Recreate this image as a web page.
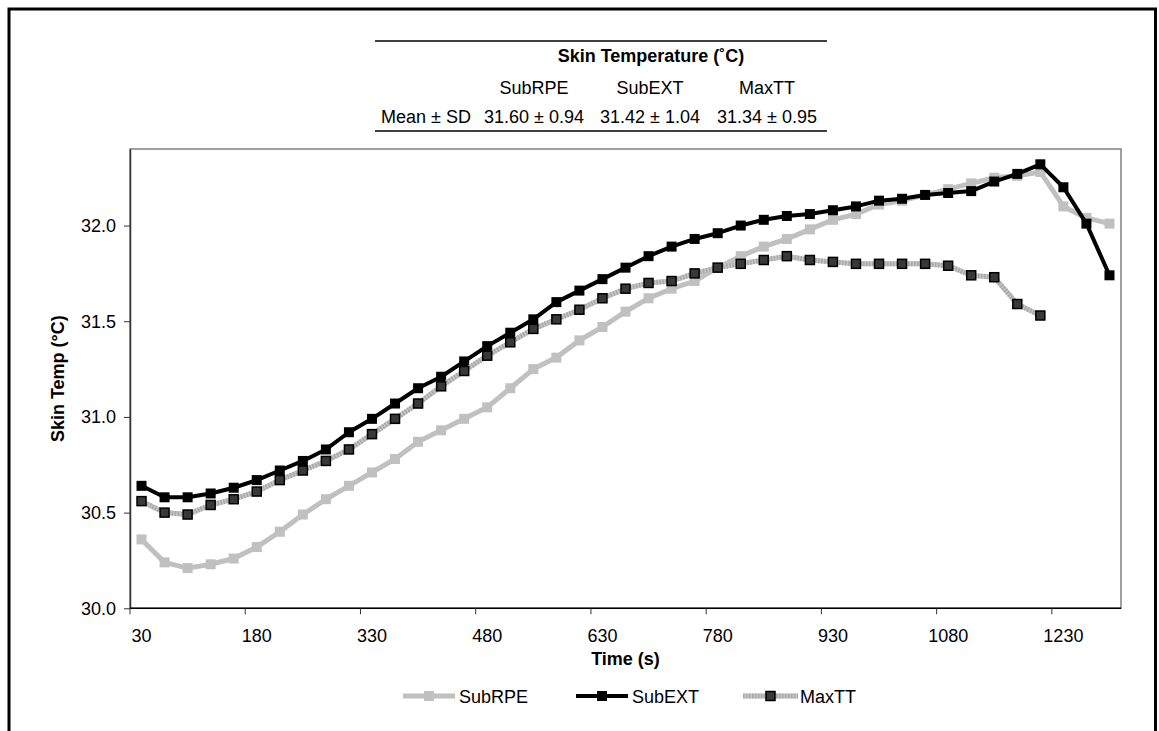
<!DOCTYPE html>
<html>
<head>
<meta charset="utf-8">
<title>Skin Temperature</title>
<script src="https://cdn.jsdelivr.net/npm/d3@7"></script>
<style>
  body { margin: 0; background: #fff; }
  svg text { font-family: "Liberation Sans", Arial, sans-serif; fill: #000; }
</style>
</head>
<body>
<div id="chart"></div>
<script>
// time points (s), one per category on the x axis
const times = [30, 60, 90, 120, 150, 180, 210, 240, 270, 300, 330, 360, 390, 420, 450,
  480, 510, 540, 570, 600, 630, 660, 690, 720, 750, 780, 810, 840, 870, 900,
  930, 960, 990, 1020, 1050, 1080, 1110, 1140, 1170, 1200, 1230, 1260, 1290];

const subRPE = [30.36, 30.24, 30.21, 30.23, 30.26, 30.32, 30.40, 30.49, 30.57, 30.64,
  30.71, 30.78, 30.87, 30.93, 30.99, 31.05, 31.15, 31.25, 31.31, 31.40,
  31.47, 31.55, 31.62, 31.67, 31.71, 31.78, 31.84, 31.89, 31.93, 31.98,
  32.03, 32.06, 32.11, 32.13, 32.16, 32.19, 32.22, 32.25, 32.26, 32.28,
  32.10, 32.04, 32.01];

const subEXT = [30.64, 30.58, 30.58, 30.60, 30.63, 30.67, 30.72, 30.77, 30.83, 30.92,
  30.99, 31.07, 31.15, 31.21, 31.29, 31.37, 31.44, 31.51, 31.60, 31.66,
  31.72, 31.78, 31.84, 31.89, 31.93, 31.96, 32.00, 32.03, 32.05, 32.06,
  32.08, 32.10, 32.13, 32.14, 32.16, 32.17, 32.18, 32.23, 32.27, 32.32,
  32.20, 32.01, 31.74];

// MaxTT stops at 1200 s
const maxTT = [30.56, 30.50, 30.49, 30.54, 30.57, 30.61, 30.67, 30.72, 30.77, 30.83,
  30.91, 30.99, 31.07, 31.16, 31.24, 31.32, 31.39, 31.46, 31.51, 31.56,
  31.62, 31.67, 31.70, 31.71, 31.75, 31.78, 31.80, 31.82, 31.84, 31.82,
  31.81, 31.80, 31.80, 31.80, 31.80, 31.79, 31.74, 31.73, 31.59, 31.53];

const seriesNames = ["SubRPE", "SubEXT", "MaxTT"];
const xTickLabels = [30, 180, 330, 480, 630, 780, 930, 1080, 1230];
const yTicks = [30.0, 30.5, 31.0, 31.5, 32.0];

// summary table above the chart
const tableTitle = "Skin Temperature (˚C)";
const tableRowLabel = "Mean ± SD";
const tableValues = ["31.60 ± 0.94", "31.42 ± 1.04", "31.34 ± 0.95"];

class SkinTempChart {
  constructor(_config) {
    this.config = {
      parentElement: _config.parentElement || "#chart",
      containerWidth: _config.containerWidth || 1159,
      containerHeight: _config.containerHeight || 731,
      plot: _config.plot || { left: 130, top: 149, right: 1121, bottom: 608.3 },
      yDomain: _config.yDomain || [30, 32.4],
    };
    this.init();
  }

  init() {
    let vis = this;
    const c = vis.config;
    vis.svg = d3
      .select(c.parentElement)
      .append("svg")
      .attr("width", c.containerWidth)
      .attr("height", c.containerHeight);

    // outer frame (runs past the bottom of the picture)
    vis.svg
      .append("rect")
      .attr("x", 9)
      .attr("y", 9)
      .attr("width", 1146.5)
      .attr("height", 760)
      .attr("fill", "none")
      .attr("stroke", "#000")
      .attr("stroke-width", 3);

    vis.x = d3
      .scaleBand()
      .domain(times)
      .range([c.plot.left, c.plot.right])
      .padding(0);
    vis.y = d3
      .scaleLinear()
      .domain(c.yDomain)
      .range([c.plot.bottom, c.plot.top]);

    this.drawTable();
    this.drawAxes();
    this.drawSeries();
    this.drawLegend();
  }

  drawTable() {
    let vis = this;
    const colX = [534, 650, 767];
    const g = vis.svg.append("g").style("font-size", "18px");

    [41, 131].forEach((yy) => {
      g.append("line")
        .attr("x1", 375)
        .attr("x2", 827)
        .attr("y1", yy)
        .attr("y2", yy)
        .attr("stroke", "#404040")
        .attr("stroke-width", 2);
    });

    g.append("text")
      .attr("x", 651)
      .attr("y", 62)
      .attr("text-anchor", "middle")
      .style("font-weight", "bold")
      .text(tableTitle);

    seriesNames.forEach((s, i) => {
      g.append("text")
        .attr("x", colX[i])
        .attr("y", 94)
        .attr("text-anchor", "middle")
        .text(s);
      g.append("text")
        .attr("x", colX[i])
        .attr("y", 123)
        .attr("text-anchor", "middle")
        .text(tableValues[i]);
    });

    g.append("text")
      .attr("x", 471)
      .attr("y", 123)
      .attr("text-anchor", "end")
      .text(tableRowLabel);
  }

  drawAxes() {
    let vis = this;
    const p = vis.config.plot;
    const bw = vis.x.bandwidth();

    // plot area border
    vis.svg
      .append("rect")
      .attr("x", p.left)
      .attr("y", p.top)
      .attr("width", p.right - p.left)
      .attr("height", p.bottom - p.top)
      .attr("fill", "none")
      .attr("stroke", "#808080")
      .attr("stroke-width", 1.5);

    // y axis
    const yAxis = d3
      .axisLeft(vis.y)
      .tickValues(yTicks)
      .tickFormat(d3.format(".1f"))
      .tickSize(6)
      .tickSizeOuter(0)
      .tickPadding(8);
    const gy = vis.svg
      .append("g")
      .attr("transform", `translate(${p.left},0)`)
      .call(yAxis);
    gy.select(".domain").attr("stroke", "#333").attr("stroke-width", 1.5);
    gy.selectAll(".tick line").attr("stroke", "#333");
    gy.selectAll("text")
      .style("font-size", "18px")
      .style("font-family", '"Liberation Sans", Arial, sans-serif')
      .attr("fill", "#000");

    // x axis: tick marks sit between categories, every 5th one
    const tickCats = times.filter((t, i) => i % 5 === 0);
    const gx = vis.svg
      .append("g")
      .attr("transform", `translate(0,${p.bottom})`);
    gx.append("line")
      .attr("x1", p.left)
      .attr("x2", p.right)
      .attr("stroke", "#000")
      .attr("stroke-width", 1.5);
    gx.selectAll(".xtick")
      .data(tickCats)
      .join("line")
      .attr("class", "xtick")
      .attr("x1", (d) => vis.x(d))
      .attr("x2", (d) => vis.x(d))
      .attr("y1", 0)
      .attr("y2", 6)
      .attr("stroke", "#333");
    gx.selectAll(".xlabel")
      .data(xTickLabels)
      .join("text")
      .attr("class", "xlabel")
      .attr("x", (d) => vis.x(d) + bw / 2)
      .attr("y", 34)
      .attr("text-anchor", "middle")
      .style("font-size", "18px")
      .text((d) => d);

    // axis titles
    vis.svg
      .append("text")
      .attr("x", (p.left + p.right) / 2)
      .attr("y", 665)
      .attr("text-anchor", "middle")
      .style("font-size", "18px")
      .style("font-weight", "bold")
      .text("Time (s)");

    vis.svg
      .append("text")
      .attr("transform", `translate(64,${(p.top + p.bottom) / 2}) rotate(-90)`)
      .attr("text-anchor", "middle")
      .style("font-size", "18px")
      .style("font-weight", "bold")
      .text("Skin Temp (°C)");
  }

  drawSeries() {
    let vis = this;
    const bw = vis.x.bandwidth();
    const cx = (i) => vis.x(times[i]) + bw / 2;
    const line = d3
      .line()
      .defined((d) => d != null)
      .x((d, i) => cx(i))
      .y((d) => vis.y(d));

    // SubRPE: light grey line and markers
    vis.svg.append("path")
      .datum(subRPE)
      .attr("fill", "none")
      .attr("stroke", "#c0c0c0")
      .attr("stroke-width", 5)
      .attr("stroke-linejoin", "round")
      .attr("d", line);
    vis.svg.append("g")
      .selectAll("rect")
      .data(subRPE)
      .join("rect")
      .attr("x", (d, i) => cx(i) - 5)
      .attr("y", (d) => vis.y(d) - 5)
      .attr("width", 10)
      .attr("height", 10)
      .attr("fill", "#c0c0c0");

    // SubEXT: black
    vis.svg.append("path")
      .datum(subEXT)
      .attr("fill", "none")
      .attr("stroke", "#000")
      .attr("stroke-width", 4)
      .attr("stroke-linejoin", "round")
      .attr("d", line);
    vis.svg.append("g")
      .selectAll("rect")
      .data(subEXT)
      .join("rect")
      .attr("x", (d, i) => cx(i) - 5)
      .attr("y", (d) => vis.y(d) - 5)
      .attr("width", 10)
      .attr("height", 10)
      .attr("fill", "#000");

    // MaxTT: hatched grey line, dark markers with black edge
    vis.svg.append("path")
      .datum(maxTT)
      .attr("fill", "none")
      .attr("stroke", "#c6c6c6")
      .attr("stroke-width", 5)
      .attr("d", line);
    vis.svg.append("path")
      .datum(maxTT)
      .attr("fill", "none")
      .attr("stroke", "#a8a8a8")
      .attr("stroke-width", 5)
      .attr("stroke-dasharray", "1.5,1.5")
      .attr("d", line);
    vis.svg.append("g")
      .selectAll("rect")
      .data(maxTT)
      .join("rect")
      .attr("x", (d, i) => cx(i) - 4.5)
      .attr("y", (d) => vis.y(d) - 4.5)
      .attr("width", 9)
      .attr("height", 9)
      .attr("fill", "#383838")
      .attr("stroke", "#000")
      .attr("stroke-width", 1.5);
  }

  drawLegend() {
    let vis = this;
    const starts = [403, 576, 743];
    const ly = 696;
    const g = vis.svg.append("g");

    seriesNames.forEach((name, i) => {
      const x0 = starts[i];
      if (i === 0) {
        g.append("line").attr("x1", x0).attr("x2", x0 + 52).attr("y1", ly).attr("y2", ly)
          .attr("stroke", "#c0c0c0").attr("stroke-width", 5);
        g.append("rect").attr("x", x0 + 21).attr("y", ly - 5).attr("width", 10).attr("height", 10)
          .attr("fill", "#c0c0c0");
      } else if (i === 1) {
        g.append("line").attr("x1", x0).attr("x2", x0 + 52).attr("y1", ly).attr("y2", ly)
          .attr("stroke", "#000").attr("stroke-width", 4);
        g.append("rect").attr("x", x0 + 21).attr("y", ly - 5).attr("width", 10).attr("height", 10)
          .attr("fill", "#000");
      } else {
        g.append("line").attr("x1", x0).attr("x2", x0 + 55).attr("y1", ly).attr("y2", ly)
          .attr("stroke", "#c6c6c6").attr("stroke-width", 5);
        g.append("line").attr("x1", x0).attr("x2", x0 + 55).attr("y1", ly).attr("y2", ly)
          .attr("stroke", "#a8a8a8").attr("stroke-width", 5).attr("stroke-dasharray", "1.5,1.5");
        g.append("rect").attr("x", x0 + 23).attr("y", ly - 4.5).attr("width", 9).attr("height", 9)
          .attr("fill", "#383838").attr("stroke", "#000").attr("stroke-width", 1.5);
      }
      g.append("text")
        .attr("x", x0 + (i === 2 ? 57 : 56))
        .attr("y", ly + 7)
        .style("font-size", "18px")
        .text(name);
    });
  }
}

new SkinTempChart({ parentElement: "#chart" });
</script>
</body>
</html>
